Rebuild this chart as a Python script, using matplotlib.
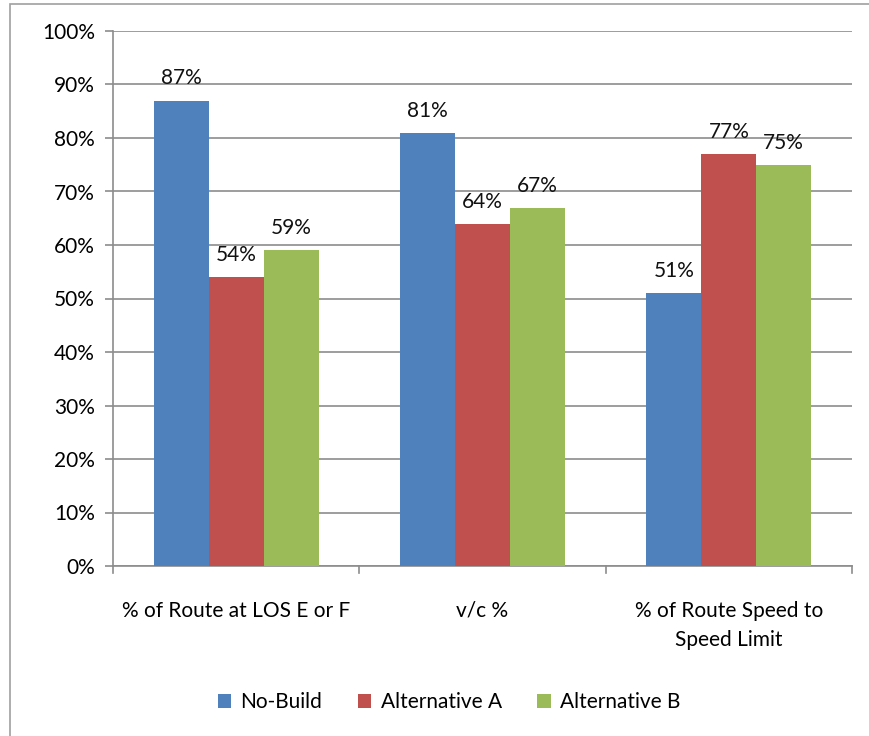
import matplotlib
matplotlib.use("Agg")
import matplotlib.pyplot as plt
from matplotlib.patches import Rectangle
import numpy as np

plt.rcParams['font.family'] = ['Lato', 'DejaVu Sans']

categories = ["% of Route at LOS E or F", "v/c %", "% of Route Speed to\nSpeed Limit"]
series_names = ["No-Build", "Alternative A", "Alternative B"]
no_build = [87, 81, 51]
alt_a = [54, 64, 77]
alt_b = [59, 67, 75]
colors = ["#4F81BD", "#C0504D", "#9BBB59"]
yticks = [0, 10, 20, 30, 40, 50, 60, 70, 80, 90, 100]

W, H = 870, 736
FS = 15
fig = plt.figure(figsize=(W / 100, H / 100), dpi=100)

# outer chart frame
fig.patches.append(Rectangle((10 / W, -0.01), 1.0, 1 - 4 / H + 0.01,
                             transform=fig.transFigure, fill=False,
                             edgecolor="#A0A0A0", linewidth=1.2))

ax = fig.add_axes([113 / W, 1 - 566 / H, (852 - 113) / W, (566 - 31) / H])

x = np.arange(len(categories))
bw = 0.223
for i, (vals, name, c) in enumerate(zip([no_build, alt_a, alt_b], series_names, colors)):
    pos = x + (i - 1) * bw
    ax.bar(pos, vals, width=bw, color=c, label=name, zorder=3)
    for p, v in zip(pos, vals):
        ax.text(p, v + 3.0, f"{v}%", ha="center", va="baseline", fontsize=FS,
                color="#111111", zorder=4)

ax.set_xlim(-0.5, len(categories) - 0.5)
ax.set_ylim(0, 100)
ax.set_yticks(yticks)
ax.set_yticklabels([f"{t}%" for t in yticks], fontsize=FS)
ax.yaxis.grid(True, color="#8C8C8C", linewidth=1.2, zorder=0)
ax.set_axisbelow(True)

ax.set_xticks(x)
ax.set_xticklabels(categories, fontsize=FS, linespacing=1.6)
ax.tick_params(axis="x", length=0, pad=25)
ax.tick_params(axis="y", length=6, color="#8C8C8C", width=1.2, pad=7)

# category boundary ticks
for b in np.arange(-0.5, len(categories), 1.0):
    ax.plot([b, b], [0, -1.3], color="#8C8C8C", linewidth=1.2, clip_on=False, zorder=2)

for s in ["top", "right"]:
    ax.spines[s].set_visible(False)
for s in ["left", "bottom"]:
    ax.spines[s].set_color("#8C8C8C")
    ax.spines[s].set_linewidth(1.2)

fig.legend(loc="center", bbox_to_anchor=(449 / W, 1 - 702 / H), ncol=3,
           frameon=False, fontsize=FS, handlelength=0.65, handleheight=0.65,
           handletextpad=0.45, columnspacing=1.7)

fig.savefig("out.png", dpi=100)
